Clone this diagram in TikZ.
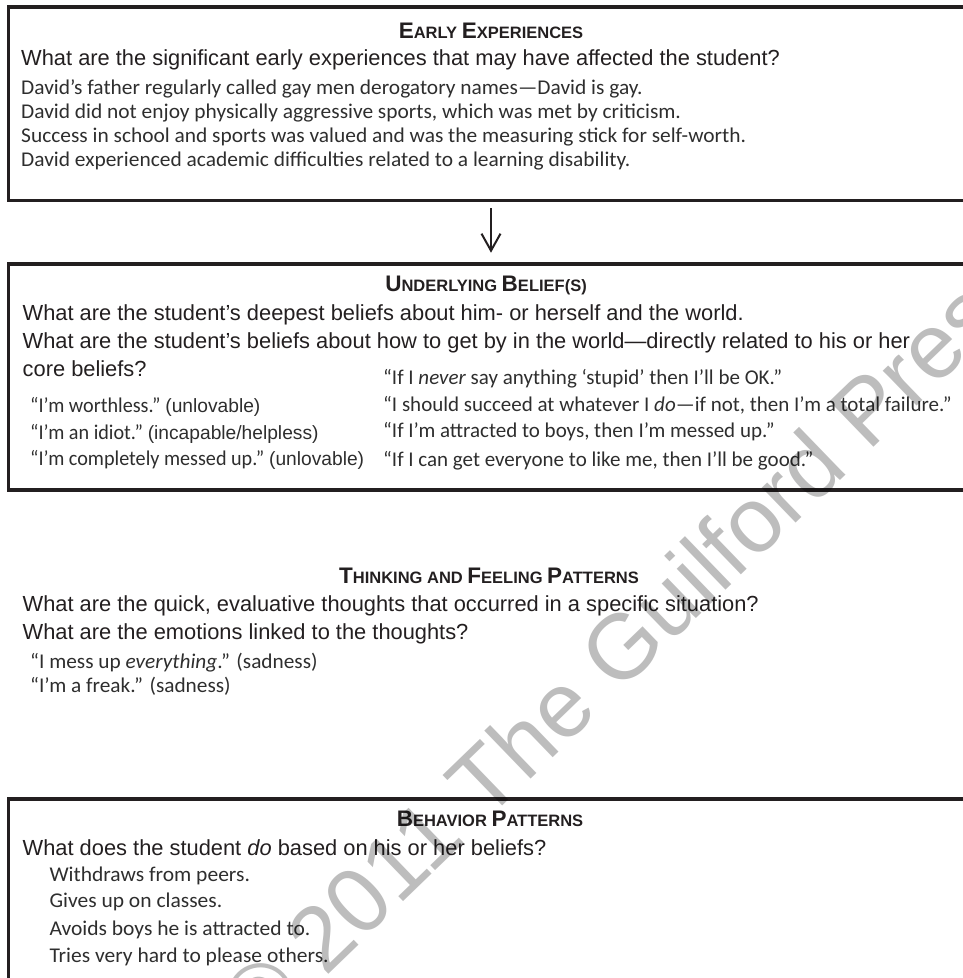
\documentclass[tikz,border=0pt]{standalone}
\usepackage{fontspec}
\setmainfont{Liberation Sans}
\newfontfamily\handfont{Carlito}
\usetikzlibrary{arrows.meta}
\definecolor{ink}{HTML}{231F20}
\definecolor{pen}{HTML}{2E2E2E}
% heading in bold small capitals: large initial, smaller rest
\newcommand\hsc[2]{{\fontsize{22.5}{22}\selectfont #1}{\fontsize{16.5}{16}\selectfont #2}}
% hand-lettered entries, widened by the given factor
\newcommand\hw[2][1.02]{\scalebox{#1}[1]{#2}}
% plain-type remark after a hand-lettered entry
\newcommand\remark[1]{{\rmfamily\fontsize{19.2}{22}\selectfont #1}}
\begin{document}
\begin{tikzpicture}[x=1pt,y=-1pt,
  panel/.style={draw=ink, line width=3.6pt, outer sep=0pt, inner sep=0pt, anchor=north west},
  heading/.style={anchor=base, inner sep=0pt, font=\bfseries\fontsize{16.5}{16}\selectfont, text=ink},
  quest/.style={anchor=base west, inner sep=0pt, font=\fontsize{21.85}{26}\selectfont, text=ink},
  item/.style={anchor=base west, inner sep=0pt, font=\handfont\fontsize{21}{24}\selectfont, text=pen},
  flow/.style={draw=ink, line width=2pt, -{Straight Barb[length=17pt,width=19pt,line width=2pt]}},
  stamp/.style={anchor=center, inner sep=0pt, rotate=44, text=black, opacity=0.26,
    font=\fontsize{92}{92}\selectfont}]
\useasboundingbox (0,0) rectangle (963,978);

% ---- panels ----
\node[panel, minimum width=965pt, minimum height=193.5pt] (early) at (8.5,7) {};
\node[panel, minimum width=965pt, minimum height=226.3pt] (belief) at (8.5,263.7) {};
\node[panel, minimum width=965pt, minimum height=200pt] (behav) at (8.5,799) {};

\draw[flow, shorten <=7.5pt, shorten >=11pt] (early.south) -- (belief.north);

% ---- early experiences ----
\node[heading] (h1) at (491,38.3) {\hsc{E}{ARLY} \hsc{E}{XPERIENCES}};
\node[quest] (q1) at (21,65) {What are the significant early experiences that may have affected the student?};
\node[item] (e1) at (21,94.3) {\hw{David’s father regularly called gay men derogatory names—David is gay.}};
\node[item] (e2) at (21,118) {\hw{David did not enjoy physically aggressive sports, which was met by criticism.}};
\node[item] (e3) at (21,142.5) {\hw{Success in school and sports was valued and was the measuring stick for self-worth.}};
\node[item] (e4) at (21,166.7) {\hw{David experienced academic difficulties related to a learning disability.}};

% ---- underlying beliefs ----
\node[heading] (h2) at (486,291.7) {\hsc{U}{NDERLYING} \hsc{B}{ELIEF(S)}};
\node[quest] (q2a) at (22.5,320) {What are the student’s deepest beliefs about him- or herself and the world.};
\node[quest] (q2b) at (22.5,348.3) {What are the student’s beliefs about how to get by in the world—directly related to his or her};
\node[quest] (q2c) at (22.5,376) {core beliefs?};
\node[item] (c1) at (30,412.7) {\hw[0.96]{“I’m worthless.”} \remark{(unlovable)}};
\node[item] (c2) at (30,439.5) {\hw[0.96]{“I’m an idiot.”} \remark{(incapable/helpless)}};
\node[item] (c3) at (30,465.5) {\hw[0.96]{“I’m completely messed up.”} \remark{(unlovable)}};
\node[item] (r1) at (383,384.5) {\hw[1.0]{“If I \textit{never} say anything ‘stupid’ then I’ll be OK.”}};
\node[item] (r2) at (383,411) {\hw[1.0]{“I should succeed at whatever I \textit{do}—if not, then I’m a total failure.”}};
\node[item] (r3) at (383,437.5) {\hw[1.0]{“If I’m attracted to boys, then I’m messed up.”}};
\node[item] (r4) at (383,466.5) {\hw[1.0]{“If I can get everyone to like me, then I’ll be good.”}};

% ---- thinking and feeling ----
\node[heading] (h3) at (489,583.3) {\hsc{T}{HINKING AND} \hsc{F}{EELING} \hsc{P}{ATTERNS}};
\node[quest] (q3a) at (22.5,611.7) {What are the quick, evaluative thoughts that occurred in a specific situation?};
\node[quest] (q3b) at (22.5,639.3) {What are the emotions linked to the thoughts?};
\node[item] (t1) at (30,668.3) {\hw[1.015]{“I mess up \textit{everything}.” (sadness)}};
\node[item] (t2) at (30,692.7) {\hw[1.015]{“I’m a freak.” (sadness)}};

% ---- behavior ----
\node[heading] (h4) at (490,826.7) {\hsc{B}{EHAVIOR} \hsc{P}{ATTERNS}};
\node[quest] (q4) at (22.5,855) {What does the student \textit{do} based on his or her beliefs?};
\node[item] (b1) at (49.3,881) {\hw[1.025]{Withdraws from peers.}};
\node[item] (b2) at (49.3,907.7) {\hw[1.025]{Gives up on classes.}};
\node[item] (b3) at (49.3,935.7) {\hw[1.025]{Avoids boys he is attracted to.}};
\node[item] (b4) at (49.3,962.7) {\hw[1.025]{Tries very hard to please others.}};

% ---- copyright mark ----
\node[stamp] (wm) at (625,642) {© 2011 The Guilford Press};
\end{tikzpicture}
\end{document}
